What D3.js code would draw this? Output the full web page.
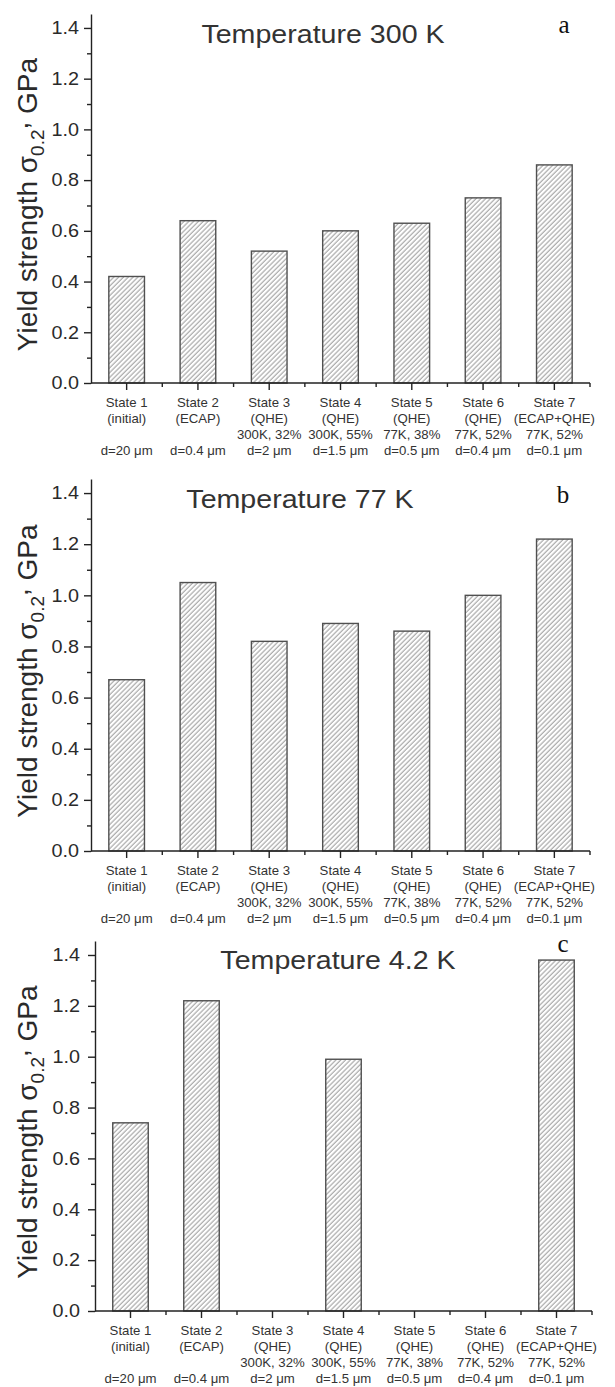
<!DOCTYPE html>
<html>
<head>
<meta charset="utf-8">
<script src="https://cdn.jsdelivr.net/npm/d3@7"></script>
<style>
  body { margin: 0; background: #fff; }
  svg { display: block; }
</style>
</head>
<body>
<script>
// categories and their multi-line tick labels
var states = ["State 1", "State 2", "State 3", "State 4", "State 5", "State 6", "State 7"];
var treatment = ["(initial)", "(ECAP)", "(QHE)", "(QHE)", "(QHE)", "(QHE)", "(ECAP+QHE)"];
var regime = ["", "", "300K, 32%", "300K, 55%", "77K, 38%", "77K, 52%", "77K, 52%"];
var grain = ["d=20 μm", "d=0.4 μm", "d=2 μm", "d=1.5 μm", "d=0.5 μm", "d=0.4 μm", "d=0.1 μm"];

// yield strength, GPa (null = not measured)
var yield300 = [0.42, 0.64, 0.52, 0.60, 0.63, 0.73, 0.86];
var yield77 = [0.67, 1.05, 0.82, 0.89, 0.86, 1.00, 1.22];
var yield4 = [0.74, 1.22, null, 0.99, null, null, 1.38];

var majorTicks = [0, 0.2, 0.4, 0.6, 0.8, 1.0, 1.2, 1.4];
var minorTicks = [0.1, 0.3, 0.5, 0.7, 0.9, 1.1, 1.3];

var titles = ["Temperature 300 K", "Temperature 77 K", "Temperature 4.2 K"];
var letters = ["a", "b", "c"];

var W = 615, H = 1387;
var stretch = 1.1; // the scan is a bit wider than tall

var svg = d3.select("body").append("svg")
    .attr("width", W)
    .attr("height", H);

// hatch for the bars
svg.append("defs").append("pattern")
    .attr("id", "hatch")
    .attr("patternUnits", "userSpaceOnUse")
    .attr("width", 3.4)
    .attr("height", 3.4)
    .attr("patternTransform", "rotate(45)")
  .append("line")
    .attr("x1", 1).attr("y1", 0)
    .attr("x2", 1).attr("y2", 3.4)
    .attr("stroke", "#8c8c8c")
    .attr("stroke-width", 0.9);

var panels = [
  {values: yield300, left: 91, right: 590, base: 383, top: 14, titleX: 323, titleY: 43, letterX: 564, letterY: 33, pad: 5},
  {values: yield77, left: 91, right: 590, base: 851, top: 479, titleX: 300, titleY: 508, letterX: 563, letterY: 503, pad: 5},
  {values: yield4, left: 95, right: 592, base: 1311, top: 941, titleX: 338, titleY: 969, letterX: 563, letterY: 952, pad: 8}
];

function stretchText(sel) {
  sel.each(function() {
    var x = +this.getAttribute("x") || 0;
    this.setAttribute("x", 0);
    this.setAttribute("transform", "translate(" + x + ",0) scale(" + stretch + ",1)");
  });
}

panels.forEach(function(p, k) {
  var g = svg.append("g");

  var x = d3.scaleBand()
      .domain(states)
      .range([p.left, p.right])
      .paddingInner(0.5)
      .paddingOuter(0.25);

  var y = d3.scaleLinear()
      .domain([0, 1.455])
      .range([p.base, p.top]);

  var rows = states.map(function(s, i) {
    return {state: s, v: p.values[i]};
  }).filter(function(d) { return d.v != null; });

  g.selectAll("rect.bar")
    .data(rows)
    .enter().append("rect")
      .attr("class", "bar")
      .attr("x", function(d) { return x(d.state); })
      .attr("y", function(d) { return y(d.v); })
      .attr("width", x.bandwidth())
      .attr("height", function(d) { return y(0) - y(d.v); })
      .attr("fill", "url(#hatch)")
      .attr("stroke", "#505050")
      .attr("stroke-width", 1.4);

  // y axis, minor then major
  g.append("g")
      .attr("transform", "translate(" + p.left + ",0)")
      .call(d3.axisLeft(y).tickValues(minorTicks).tickSize(4).tickSizeOuter(0).tickFormat(""))
      .call(function(a) { a.select(".domain").remove(); });

  var ya = g.append("g")
      .attr("transform", "translate(" + p.left + ",0)")
      .call(d3.axisLeft(y).tickValues(majorTicks).tickSize(7).tickSizeOuter(0)
            .tickPadding(p.pad).tickFormat(d3.format(".1f")));
  ya.selectAll("text")
      .attr("font-family", "Liberation Sans, Arial, sans-serif")
      .attr("font-size", 18)
      .attr("fill", "#2a2a2a");
  stretchText(ya.selectAll("text"));

  // x axis: major at band centres, minor on band borders
  var xa = g.append("g")
      .attr("transform", "translate(0," + p.base + ")")
      .call(d3.axisBottom(x).tickSize(7).tickSizeOuter(0).tickFormat(""));
  xa.select(".domain").attr("d", "M" + p.left + ",0H" + p.right);

  g.append("g").selectAll("line")
    .data(states)
    .enter().append("line")
      .attr("x1", function(d) { return x(d) + x.bandwidth() + (x.step() - x.bandwidth()) / 2; })
      .attr("x2", function(d) { return x(d) + x.bandwidth() + (x.step() - x.bandwidth()) / 2; })
      .attr("y1", p.base)
      .attr("y2", p.base + 4)
      .attr("stroke", "#222")
      .attr("stroke-width", 1.4);

  g.selectAll(".domain, .tick line")
      .attr("stroke", "#222")
      .attr("stroke-width", 1.4);

  // category labels, four lines each
  var lab = g.append("g").selectAll("text")
    .data(states)
    .enter().append("text")
      .attr("transform", function(d) {
        return "translate(" + (x(d) + x.bandwidth() / 2) + "," + (p.base + 24) + ") scale(" + stretch + ",1)";
      })
      .attr("text-anchor", "middle")
      .attr("font-family", "Liberation Sans, Arial, sans-serif")
      .attr("font-size", 12)
      .attr("fill", "#333");
  lab.each(function(d, i) {
    var t = d3.select(this);
    [states[i], treatment[i], regime[i], grain[i]].forEach(function(s, j) {
      t.append("tspan").attr("x", 0).attr("y", j * 16).text(s);
    });
  });

  // axis title
  var yl = g.append("text")
      .attr("transform", "translate(37," + ((p.base + p.top) / 2 + 6) + ") rotate(-90)")
      .attr("text-anchor", "middle")
      .attr("font-family", "Liberation Sans, Arial, sans-serif")
      .attr("font-size", 28)
      .attr("fill", "#2a2a2a");
  yl.append("tspan").text("Yield strength σ");
  yl.append("tspan").attr("font-size", 19).attr("dy", 7).text("0.2");
  yl.append("tspan").attr("dy", -16).text(",");
  yl.append("tspan").attr("dy", 9).text(" GPa");

  // panel title and letter
  g.append("text")
      .attr("transform", "translate(" + p.titleX + "," + p.titleY + ") scale(" + stretch + ",1)")
      .attr("text-anchor", "middle")
      .attr("font-family", "Liberation Sans, Arial, sans-serif")
      .attr("font-size", 26)
      .attr("fill", "#333")
      .text(titles[k]);

  g.append("text")
      .attr("x", p.letterX)
      .attr("y", p.letterY)
      .attr("text-anchor", "middle")
      .attr("font-family", "Liberation Serif, Times New Roman, serif")
      .attr("font-size", 25)
      .attr("fill", "#111")
      .text(letters[k]);
});
</script>
</body>
</html>
